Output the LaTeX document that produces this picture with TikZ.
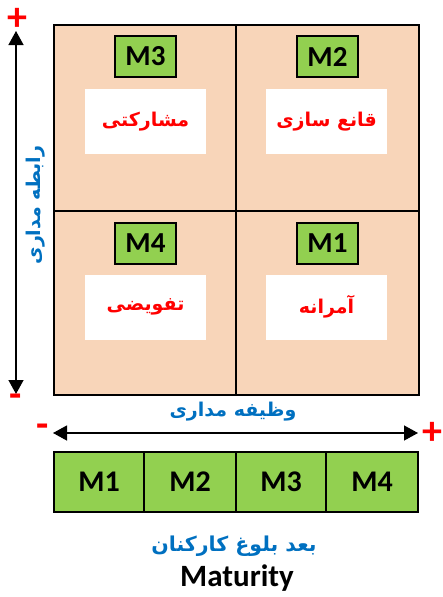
\documentclass[tikz,border=0pt]{standalone}
\usepackage{fontspec}
\setmainfont{Carlito}
\newfontfamily\fa[Script=Arabic]{DejaVu Sans}
\TeXXeTstate=1
\usetikzlibrary{arrows.meta}
\definecolor{peach}{HTML}{F8D5B9}
\definecolor{mgreen}{HTML}{92D050}
\definecolor{mred}{HTML}{FF0000}
\definecolor{mblue}{HTML}{0070C0}
\tikzset{
  quad/.style={draw=black, line width=1.6pt, fill=peach, inner sep=0pt},
  mbox/.style={draw=black, line width=1.2pt, fill=mgreen, minimum width=61pt, minimum height=41pt, inner sep=0pt, font=\fontsize{29}{29}\selectfont\bfseries},
  wbox/.style={fill=white, minimum width=121pt, minimum height=65pt, inner sep=0pt, text=mred, font=\fa\bfseries\fontsize{19}{22}\selectfont},
  cell/.style={draw=black, line width=1.2pt, fill=mgreen, minimum height=60pt, inner sep=0pt, font=\fontsize{30}{30}\selectfont\bfseries},
  axlab/.style={text=mblue, font=\fa\bfseries\fontsize{19}{22}\selectfont, inner sep=0pt},
  sign/.style={text=mred, font=\fontsize{40}{40}\selectfont\bfseries, inner sep=0pt},
  arr/.style={line width=1.3pt, {Triangle[length=14pt,width=15pt]}-{Triangle[length=14pt,width=15pt]}}
}
\begin{document}
\begin{tikzpicture}[x=1pt,y=-1pt]
\useasboundingbox (0,0) rectangle (442,597);
% quadrants
\node[quad, minimum width=182pt, minimum height=186pt] (q3) at (145,118) {};
\node[quad, minimum width=183pt, minimum height=186pt] (q2) at (327.5,118) {};
\node[quad, minimum width=182pt, minimum height=184pt] (q4) at (145,303) {};
\node[quad, minimum width=183pt, minimum height=184pt] (q1) at (327.5,303) {};
% M labels
\node[mbox] (m3) at (145.5,56.5) {M3};
\node[mbox] (m2) at (327.5,56.5) {M2};
\node[mbox] (m4) at (145.5,243.5) {M4};
\node[mbox] (m1) at (327.5,243.5) {M1};
% white text boxes
\node[wbox] (t3) at (145.5,121.5) {\beginR مشارکتی\endR};
\node[wbox] (t2) at (326.5,121.5) {\beginR قانع سازی\endR};
\node[wbox] (t4) at (145.5,307) {\beginR تفویضی\endR};
\node[wbox] (t1) at (326.5,307) {\beginR آمرانه\endR};
% vertical axis
\coordinate (vtop) at (16,31);
\coordinate (vbot) at (16,394);
\draw[arr] (vbot) -- (vtop);
\node[sign] (vplus) at (17,19) {+};
\node[sign] (vminus) at (16,401) {-};
\node[axlab, rotate=90] (vlab) at (36,205) {\beginR رابطه مداری\endR};
% horizontal axis
\node[axlab] (hlab) at (233,412) {\beginR وظیفه مداری\endR};
\coordinate (hleft) at (53,433);
\coordinate (hright) at (418,433);
\draw[arr] (hleft) -- (hright);
\node[sign] (hminus) at (43,431) {-};
\node[sign] (hplus) at (432,433) {+};
% maturity bar
\node[cell, minimum width=90pt] (c1) at (99,482) {M1};
\node[cell, minimum width=92pt] (c2) at (190,482) {M2};
\node[cell, minimum width=90pt] (c3) at (281,482) {M3};
\node[cell, minimum width=92pt] (c4) at (372,482) {M4};
\node[axlab, font=\fa\bfseries\fontsize{20.5}{24}\selectfont] (blab) at (234,546) {\beginR بعد بلوغ کارکنان\endR};
\node[inner sep=0pt, font=\fontsize{31}{31}\selectfont\bfseries] (mat) at (237,578) {Maturity};
\end{tikzpicture}
\end{document}
